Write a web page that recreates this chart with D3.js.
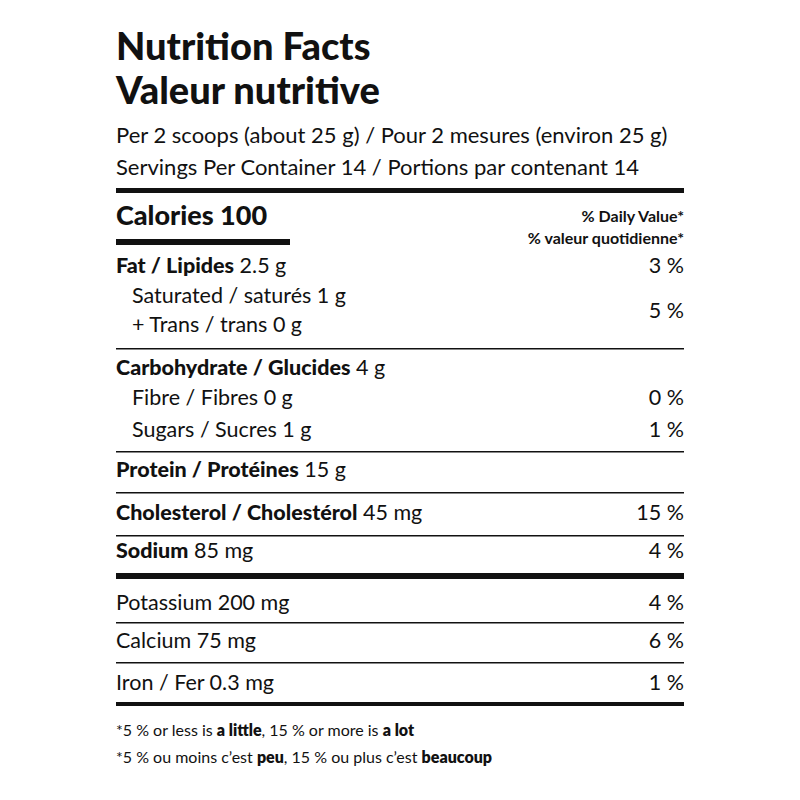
<!DOCTYPE html>
<html>
<head>
<script src="https://d3js.org/d3.v7.min.js"></script>
<style>
  body { margin: 0; background: #fff; }
  text { font-family: Lato, "Open Sans", sans-serif; fill: #111; }
</style>
</head>
<body>
<svg id="label" width="800" height="800"></svg>
<script>
// Label content
const titles = ["Nutrition Facts", "Valeur nutritive"];
const servingLines = [
  "Per 2 scoops (about 25 g) / Pour 2 mesures (environ 25 g)",
  "Servings Per Container 14 / Portions par contenant 14"
];
const calories = ["Calories", "100"];
const dvHeader = ["% Daily Value*", "% valeur quotidienne*"];

// [bold part, normal part, indented]
const nutrientNames = [
  ["Fat / Lipides", " 2.5 g", false],
  ["", "Saturated / saturés 1 g", true],
  ["", "+ Trans / trans 0 g", true],
  ["Carbohydrate / Glucides", " 4 g", false],
  ["", "Fibre / Fibres 0 g", true],
  ["", "Sugars / Sucres 1 g", true],
  ["Protein / Protéines", " 15 g", false],
  ["Cholesterol / Cholestérol", " 45 mg", false],
  ["Sodium", " 85 mg", false],
  ["", "Potassium 200 mg", false],
  ["", "Calcium 75 mg", false],
  ["", "Iron / Fer 0.3 mg", false]
];
const dailyValues = ["3 %", null, null, "", "0 %", "1 %", "", "15 %", "4 %", "4 %", "6 %", "1 %"];
const footnotes = [
  [["*5 % or less is ", false], ["a little", true], [", 15 % or more is ", false], ["a lot", true]],
  [["*5 % ou moins c\u2019est ", false], ["peu", true], [", 15 % ou plus c\u2019est ", false], ["beaucoup", true]]
];

const L = 116, R = 684;
const svg = d3.select("#label");

// row baselines
const rowY = [273, 303, 332, 375, 405, 437, 477, 520, 558, 610, 648, 690];

svg.selectAll("text.title").data(titles).join("text")
  .attr("class", "title")
  .attr("x", L).attr("y", (d, i) => 60 + i * 44)
  .attr("font-size", 38).attr("font-weight", 900)
  .text(d => d);

svg.selectAll("text.serv").data(servingLines).join("text")
  .attr("class", "serv")
  .attr("x", L).attr("y", (d, i) => 143 + i * 32)
  .attr("font-size", 22)
  .text(d => d);

const rule = (y, h, x2 = R) => svg.append("rect").attr("x", L).attr("y", y).attr("width", x2 - L).attr("height", h).attr("fill", "#111");
rule(188, 5);
svg.append("text").attr("x", L).attr("y", 225).attr("font-size", 27).attr("font-weight", 900)
  .text(calories.join(" "));
rule(239, 6, 290);
svg.selectAll("text.dvh").data(dvHeader).join("text")
  .attr("class", "dvh")
  .attr("x", R).attr("y", (d, i) => 222 + i * 22)
  .attr("text-anchor", "end").attr("font-size", 16).attr("font-weight", 700)
  .text(d => d);

nutrientNames.forEach((n, i) => {
  const t = svg.append("text")
    .attr("x", n[2] ? L + 16 : L).attr("y", rowY[i]).attr("font-size", 21.5);
  if (n[0]) t.append("tspan").attr("font-weight", 900).text(n[0]);
  t.append("tspan").text(n[1]);
  if (dailyValues[i]) {
    svg.append("text").attr("x", R).attr("y", rowY[i]).attr("text-anchor", "end")
      .attr("font-size", 21.5).text(dailyValues[i]);
  }
});
svg.append("text").attr("x", R).attr("y", 318).attr("text-anchor", "end")
  .attr("font-size", 21.5).text("5 %");

[348, 451, 492, 535, 622, 662].forEach(y => rule(y, 1.5));
rule(573, 6);
rule(702, 4);

footnotes.forEach((f, i) => {
  const t = svg.append("text").attr("x", L).attr("y", 736 + i * 27).attr("font-size", 16);
  f.forEach(p => t.append("tspan").attr("font-weight", p[1] ? 800 : 400).text(p[0]));
});
</script>
</body>
</html>
